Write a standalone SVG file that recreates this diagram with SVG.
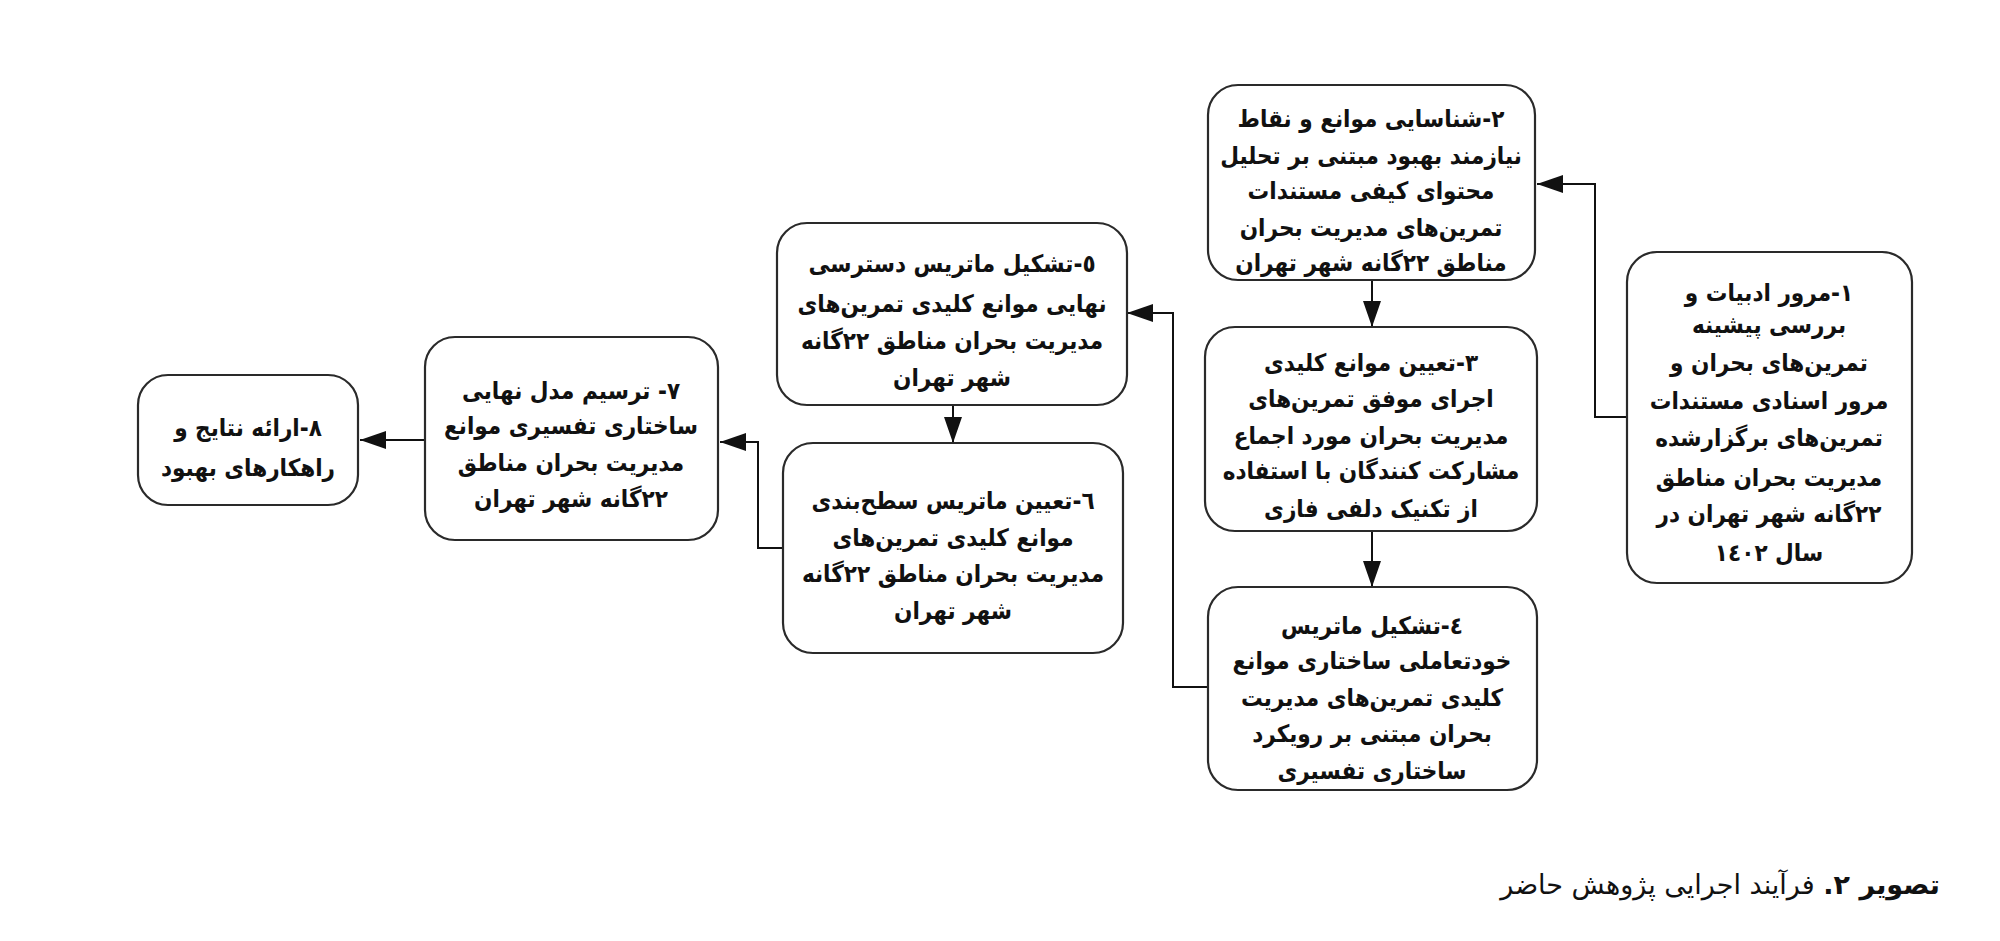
<svg xmlns="http://www.w3.org/2000/svg" width="2000" height="941" viewBox="0 0 2000 941">
<style>
.box{fill:#fff;stroke:#2a2a2a;stroke-width:2.2}
.t{font-family:"DejaVu Sans Condensed","DejaVu Sans",sans-serif;font-stretch:condensed;font-size:24px;font-weight:bold;fill:#111;text-anchor:middle;direction:rtl}
.c{fill:none;stroke:#111;stroke-width:2}
.cap{font-family:"DejaVu Sans",sans-serif;font-size:27px;fill:#111;direction:rtl;text-anchor:start}
</style>
<defs>
<marker id="ah" markerUnits="userSpaceOnUse" markerWidth="26" markerHeight="18" refX="26" refY="9" orient="auto">
<path d="M0,0 L26,9 L0,18 z" fill="#111"/>
</marker>
</defs>
<rect width="2000" height="941" fill="#fff"/>
<g id="connectors">
<path class="c" d="M1627,417 H1595 V184 H1537" marker-end="url(#ah)"/>
<path class="c" d="M1372,280 V327" marker-end="url(#ah)"/>
<path class="c" d="M1372,531 V587" marker-end="url(#ah)"/>
<path class="c" d="M1208,687 H1173 V313 H1127" marker-end="url(#ah)"/>
<path class="c" d="M953,405 V443" marker-end="url(#ah)"/>
<path class="c" d="M783,548 H758 V442 H720" marker-end="url(#ah)"/>
<path class="c" d="M425,440 H360" marker-end="url(#ah)"/>
</g>
<g id="n1">
<rect class="box" x="1627" y="252" width="285" height="331" rx="30"/>
<text class="t" x="1769" y="301">۱-مرور ادبیات و</text>
<text class="t" x="1769" y="333">بررسی پیشینه</text>
<text class="t" x="1769" y="371">تمرین&#x200C;های بحران و</text>
<text class="t" x="1769" y="409">مرور اسنادی مستندات</text>
<text class="t" x="1769" y="446">تمرین&#x200C;های برگزارشده</text>
<text class="t" x="1769" y="486">مدیریت بحران مناطق</text>
<text class="t" x="1769" y="522">۲۲گانه شهر تهران در</text>
<text class="t" x="1769" y="561">سال ۱٤۰۲</text>
</g>
<g id="n2">
<rect class="box" x="1208" y="85" width="327" height="195" rx="30"/>
<text class="t" x="1371" y="127">۲-شناسایی موانع و نقاط</text>
<text class="t" x="1371" y="164">نیازمند بهبود مبتنی بر تحلیل</text>
<text class="t" x="1371" y="199">محتوای کیفی مستندات</text>
<text class="t" x="1371" y="236">تمرین&#x200C;های مدیریت بحران</text>
<text class="t" x="1371" y="271">مناطق ۲۲گانه شهر تهران</text>
</g>
<g id="n3">
<rect class="box" x="1205" y="327" width="332" height="204" rx="30"/>
<text class="t" x="1371" y="371">۳-تعیین موانع کلیدی</text>
<text class="t" x="1371" y="407">اجرای موفق تمرین&#x200C;های</text>
<text class="t" x="1371" y="444">مدیریت بحران مورد اجماع</text>
<text class="t" x="1371" y="479">مشارکت کنندگان با استفاده</text>
<text class="t" x="1371" y="517">از تکنیک دلفی فازی</text>
</g>
<g id="n4">
<rect class="box" x="1208" y="587" width="329" height="203" rx="30"/>
<text class="t" x="1372" y="634">٤-تشکیل ماتریس</text>
<text class="t" x="1372" y="669">خودتعاملی ساختاری موانع</text>
<text class="t" x="1372" y="706">کلیدی تمرین&#x200C;های مدیریت</text>
<text class="t" x="1372" y="742">بحران مبتنی بر رویکرد</text>
<text class="t" x="1372" y="779">ساختاری تفسیری</text>
</g>
<g id="n5">
<rect class="box" x="777" y="223" width="350" height="182" rx="30"/>
<text class="t" x="952" y="272">٥-تشکیل ماتریس دسترسی</text>
<text class="t" x="952" y="312">نهایی موانع کلیدی تمرین&#x200C;های</text>
<text class="t" x="952" y="349">مدیریت بحران مناطق ۲۲گانه</text>
<text class="t" x="952" y="386">شهر تهران</text>
</g>
<g id="n6">
<rect class="box" x="783" y="443" width="340" height="210" rx="30"/>
<text class="t" x="953" y="509">٦-تعیین ماتریس سطح&#x200C;بندی</text>
<text class="t" x="953" y="546">موانع کلیدی تمرین&#x200C;های</text>
<text class="t" x="953" y="582">مدیریت بحران مناطق ۲۲گانه</text>
<text class="t" x="953" y="619">شهر تهران</text>
</g>
<g id="n7">
<rect class="box" x="425" y="337" width="293" height="203" rx="30"/>
<text class="t" x="571" y="399">۷- ترسیم مدل نهایی</text>
<text class="t" x="571" y="434">ساختاری تفسیری موانع</text>
<text class="t" x="571" y="471">مدیریت بحران مناطق</text>
<text class="t" x="571" y="507">۲۲گانه شهر تهران</text>
</g>
<g id="n8">
<rect class="box" x="138" y="375" width="220" height="130" rx="30"/>
<text class="t" x="248" y="436">۸-ارائه نتایج و</text>
<text class="t" x="248" y="476">راهکارهای بهبود</text>
</g>
<text class="cap" x="1940" y="894"><tspan font-weight="bold">تصویر ۲.</tspan> فرآیند اجرایی پژوهش حاضر</text>
</svg>
